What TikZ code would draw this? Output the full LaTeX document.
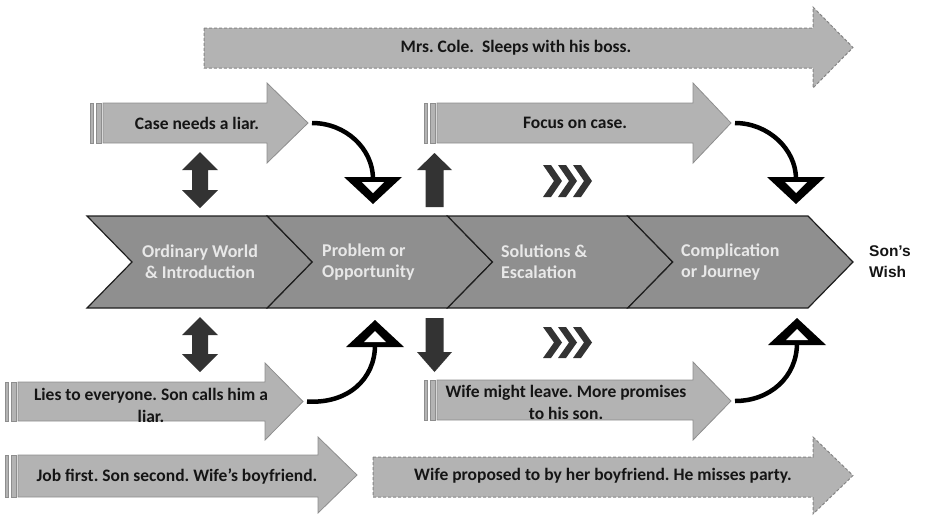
\documentclass[tikz,border=0pt]{standalone}
\usepackage{fontspec}
\setmainfont{Carlito}
\newfontfamily\headfont{Liberation Sans}
\frenchspacing

\definecolor{arrowgray}{HTML}{B3B3B3}
\definecolor{arrowedge}{HTML}{8E8E8E}
\definecolor{dashgray}{HTML}{858585}
\definecolor{stagegray}{HTML}{8F8F8F}
\definecolor{stageedge}{HTML}{1E1E1E}
\definecolor{stagetext}{HTML}{E8E8E8}
\definecolor{markgray}{HTML}{333333}
\definecolor{inkblack}{HTML}{151515}

\tikzset{
  lightarrow/.style={fill=arrowgray, draw=arrowedge, line width=0.8pt},
  dashedarrow/.style={fill=arrowgray, draw=dashgray, line width=1pt, dash pattern=on 3pt off 2pt},
  stage/.style={fill=stagegray, draw=stageedge, line width=1.2pt, line join=miter},
  darkmark/.style={fill=markgray},
  bendline/.style={draw=black, line width=4.5pt},
  arrowtext/.style={font=\bfseries\fontsize{17.5}{22}\selectfont, text=inkblack, align=center, inner sep=0pt},
  stagelabel/.style={font=\bfseries\fontsize{18}{21}\selectfont, text=stagetext, inner sep=0pt},
}

% striped block arrow: left x, head base x, tip x, body top, body bottom, head top, head bottom, name
\newcommand\StripedArrow[8]{%
  \path[lightarrow] (#1,#4) rectangle (#1+3,#5);
  \path[lightarrow] (#1+6,#4) rectangle (#1+11,#5);
  \path[lightarrow] (#1+13,#4) -- (#2,#4) -- (#2,#6) -- (#3,{(#6+#7)/2}) -- (#2,#7) -- (#2,#5) -- (#1+13,#5) -- cycle;
  \coordinate (#8-out) at (#3+4,{(#6+#7)/2});
}
% dashed block arrow with the same arguments
\newcommand\DashedArrow[8]{%
  \path[dashedarrow] (#1,#4) -- (#2,#4) -- (#2,#6) -- (#3,{(#6+#7)/2}) -- (#2,#7) -- (#2,#5) -- (#1,#5) -- cycle;
  \coordinate (#8-out) at (#3,{(#6+#7)/2});
}
% hollow triangle heads: centre x, top (or base) y, name
\newcommand\DownHead[3]{%
  \fill[black] (#1-29,#2) -- (#1+29,#2) -- (#1,#2+27) -- cycle;
  \fill[white] (#1-11,#2+5) -- (#1+11,#2+5) -- (#1,#2+16) -- cycle;
  \coordinate (#3) at (#1,#2+2);
}
\newcommand\UpHead[3]{%
  \fill[black] (#1-29,#2) -- (#1+29,#2) -- (#1,#2-27) -- cycle;
  \fill[white] (#1-11,#2-5) -- (#1+11,#2-5) -- (#1,#2-16) -- cycle;
  \coordinate (#3) at (#1,#2-2);
}
% dark double-headed vertical arrow: centre x, top y, bottom y
\newcommand\DoubleMark[3]{%
  \path[darkmark] (#1,#2) -- (#1+18,#2+18) -- (#1+8,#2+18) -- (#1+8,#3-18) -- (#1+18,#3-18)
    -- (#1,#3) -- (#1-18,#3-18) -- (#1-8,#3-18) -- (#1-8,#2+18) -- (#1-18,#2+18) -- cycle;
}
% three small chevrons: left x, top y, bottom y
\newcommand\TripleChevron[3]{%
  \foreach \dx in {0,15,30}{
    \path[darkmark] (#1+\dx,#2) -- (#1+\dx+8,#2) -- (#1+\dx+19,{(#2+#3)/2}) -- (#1+\dx+8,#3)
      -- (#1+\dx,#3) -- (#1+\dx+11,{(#2+#3)/2}) -- cycle;
  }
}

\begin{document}
\begin{tikzpicture}[x=1pt, y=-1pt]
\useasboundingbox (0,0) rectangle (926,515);

% ---- stage band ----
\foreach \xa in {87,267.25,447.5,627.75}{
  \path[stage] (\xa,216) -- (\xa+180.25,216) -- (\xa+225.25,262) -- (\xa+180.25,308)
    -- (\xa,308) -- (\xa+45,262) -- cycle;
}
\node[stagelabel, align=center] (ordinary) at (200,262) {Ordinary World\\\& Introduction};
\node[stagelabel, align=left, anchor=west] (problem) at (322,262) {Problem or\\Opportunity};
\node[stagelabel, align=left, anchor=west] (solutions) at (501,262) {Solutions \&\\Escalation};
\node[stagelabel, align=left, anchor=west] (complication) at (681,262) {Complication\\or Journey};
\node[font=\headfont\bfseries\fontsize{15.5}{21}\selectfont, align=left, anchor=west, inner sep=0pt, text=inkblack]
  (wish) at (869,262) {Son’s\\Wish};

% ---- upper track ----
\DashedArrow{204}{813}{853}{28}{68}{7}{88}{cole}
\node[arrowtext] (coletext) at (516,48) {Mrs. Cole.\ \ Sleeps with his boss.};

\StripedArrow{90}{267}{308}{103}{143}{83}{163}{case}
\node[arrowtext] (casetext) at (197,123) {Case needs a liar.};

\StripedArrow{424}{693}{731}{103}{143}{83}{163}{focus}
\node[arrowtext] (focustext) at (575,123) {Focus on case.};

\DownHead{373}{177}{headA}
\DownHead{796}{177}{headB}
\draw[bendline] (case-out) .. controls (346,123) and (373,149) .. (headA);
\draw[bendline] (focus-out) .. controls (768,123) and (796,149) .. (headB);

\DoubleMark{200}{152}{208}
\path[darkmark] (434.5,153) -- (452,170) -- (443.5,170) -- (443.5,207) -- (425.5,207)
  -- (425.5,170) -- (417,170) -- cycle;
\TripleChevron{543}{165}{197}

% ---- lower track ----
\DoubleMark{200}{317}{372}
\path[darkmark] (425.5,318) -- (443.5,318) -- (443.5,352) -- (452,352) -- (434.5,372)
  -- (417,352) -- (425.5,352) -- cycle;
\TripleChevron{543}{327}{358}

\StripedArrow{5}{265}{303}{382}{421}{363}{440}{lies}
\node[arrowtext] (liestext) at (151,405) {Lies to everyone. Son calls him a\\liar.};

\StripedArrow{424}{693}{731}{380}{420}{362}{440}{wife}
\node[arrowtext] (wifetext) at (566,402) {Wife might leave. More promises\\to his son.};

\UpHead{375}{347}{headC}
\UpHead{797}{345}{headD}
\draw[bendline] (lies-out) .. controls (348,404) and (375,379) .. (headC);
\draw[bendline] (wife-out) .. controls (770,401) and (797,377) .. (headD);

\StripedArrow{5}{318}{357}{455}{497}{437}{513}{job}
\node[arrowtext] (jobtext) at (177,476) {Job first. Son second. Wife’s boyfriend.};

\DashedArrow{373}{813}{853}{457}{497}{437}{514}{party}
\node[arrowtext] (partytext) at (603,476) {Wife proposed to by her boyfriend. He misses party.};
\end{tikzpicture}
\end{document}
